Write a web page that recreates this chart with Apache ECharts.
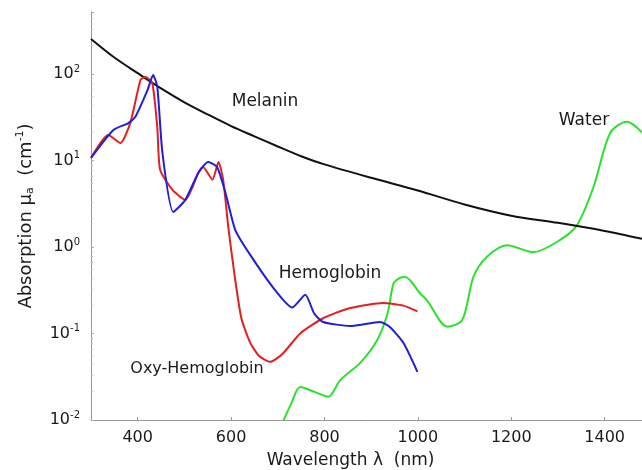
<!DOCTYPE html>
<html>
<head>
<meta charset="utf-8">
<script src="https://cdn.jsdelivr.net/npm/echarts@6/dist/echarts.min.js"></script>
<style>
html,body{margin:0;padding:0;background:#fff;}
#c{width:642px;height:470px;}
</style>
</head>
<body>
<div id="c"></div>
<script>
// Wavelength ticks
var xTicks = [400, 600, 800, 1000, 1200, 1400];

// Melanin
var melaninNm  = [300, 350, 400, 450, 500, 550, 600, 650, 700, 750, 800, 900, 1000, 1100, 1200, 1300, 1400, 1480];
var melaninVal = [254, 155, 102, 68, 47, 34, 25, 19, 14.5, 11.2, 9, 6.3, 4.5, 3.1, 2.3, 1.9, 1.53, 1.24];

// Hemoglobin (deoxy)
var hbNm  = [300, 348, 380, 395, 421, 433, 442, 453, 476, 502, 530, 551, 570, 588, 609, 641, 690, 731, 759, 778, 797, 855, 919, 940, 969, 999];
var hbVal = [10.7, 22.5, 27, 32, 65, 97, 71, 12.2, 2.54, 3.5, 7.2, 9.6, 8.4, 4.2, 1.57, 0.81, 0.34, 0.20, 0.28, 0.17, 0.136, 0.122, 0.136, 0.119, 0.078, 0.036];

// Oxy-Hemoglobin
var hbo2Nm  = [300, 337, 363, 384, 406, 416, 431, 442, 448, 474, 502, 530, 540, 560, 573, 583, 594, 608, 622, 641, 660, 684, 710, 748, 797, 855, 926, 969, 999];
var hbo2Val = [10.7, 19.7, 15.9, 27, 85, 92, 79, 24, 7.8, 4.6, 3.5, 7.2, 8.4, 6.0, 9.6, 6.0, 1.7, 0.45, 0.15, 0.078, 0.055, 0.047, 0.058, 0.10, 0.15, 0.197, 0.225, 0.21, 0.18];

// Water
var waterNm  = [712, 730, 748, 780, 808, 834, 877, 913, 935, 948, 962, 973, 1005, 1020, 1063, 1095, 1119, 1148, 1191, 1247, 1304, 1341, 1376, 1412, 1448, 1480];
var waterVal = [0.0098, 0.016, 0.024, 0.021, 0.0186, 0.029, 0.046, 0.084, 0.17, 0.38, 0.44, 0.45, 0.29, 0.24, 0.12, 0.143, 0.45, 0.77, 1.05, 0.87, 1.2, 1.8, 4.9, 20.8, 28, 21];

function zip(a, b) { return a.map(function (v, i) { return [v, b[i]]; }); }

var FONT = 'DejaVu Sans';
var TXT = '#1a1a1a';
var ANN = '17px "DejaVu Sans"';

var chart = echarts.init(document.getElementById('c'), null, {renderer: 'canvas'});
chart.setOption({
  animation: false,
  backgroundColor: '#ffffff',
  grid: {left: 91, right: 0, top: 12, bottom: 50, containLabel: false, outerBoundsMode: 'none'},
  xAxis: {
    type: 'value',
    min: 300,
    max: 1480,
    splitLine: {show: false},
    axisLine: {show: true, lineStyle: {color: '#9a9a9a', width: 1}},
    axisTick: {show: true, inside: true, length: 3, customValues: xTicks, lineStyle: {color: '#9a9a9a'}},
    axisLabel: {customValues: xTicks, color: TXT, fontFamily: FONT, fontSize: 16, margin: 10,
      formatter: function (v) { return String(v); }},
    name: 'Wavelength \u03bb  (nm)',
    nameLocation: 'middle',
    nameGap: 32,
    nameTextStyle: {color: TXT, fontFamily: FONT, fontSize: 17, padding: [0, 32, 0, 0]}
  },
  yAxis: {
    type: 'log',
    logBase: 10,
    min: 0.01,
    max: 520,
    splitLine: {show: false},
    axisLine: {show: true, lineStyle: {color: '#9a9a9a', width: 1}},
    axisTick: {show: true, inside: true, length: 3, lineStyle: {color: '#aaaaaa'}},
    minorTick: {show: true, splitNumber: 8, length: 2, lineStyle: {color: '#bbbbbb'}},
    axisLabel: {
      margin: 11,
      formatter: function (v) {
        var e = Math.log10(v);
        var r = Math.round(e);
        if (Math.abs(e - r) > 1e-6) return '';
        return '{b|10}{s|' + (r < 0 ? '-' + (-r) : r) + '}';
      },
      rich: {
        b: {color: TXT, fontFamily: FONT, fontSize: 16},
        s: {color: TXT, fontFamily: FONT, fontSize: 10, verticalAlign: 'top', padding: [0, 0, 10, 0]}
      }
    },
    name: 'Absorption \u03bc{sub|a}  (cm{sup|-1})',
    nameLocation: 'middle',
    nameGap: 54,
    nameRotate: 90,
    nameTextStyle: {
      color: TXT, fontFamily: FONT, fontSize: 18,
      rich: {
        sub: {color: TXT, fontFamily: FONT, fontSize: 11, padding: [9, 0, 0, 0]},
        sup: {color: TXT, fontFamily: FONT, fontSize: 11, padding: [0, 0, 11, 0]}
      }
    }
  },
  series: [
    {name: 'Melanin', type: 'line', data: zip(melaninNm, melaninVal), showSymbol: false, smooth: 0.3,
     lineStyle: {color: '#111111', width: 2}, z: 3},
    {name: 'Water', type: 'line', data: zip(waterNm, waterVal), showSymbol: false, smooth: 0.3,
     lineStyle: {color: '#2ee02e', width: 2}, z: 2},
    {name: 'Oxy-Hemoglobin', type: 'line', data: zip(hbo2Nm, hbo2Val), showSymbol: false, smooth: 0.2,
     lineStyle: {color: '#e41f1f', width: 2}, z: 4},
    {name: 'Hemoglobin', type: 'line', data: zip(hbNm, hbVal), showSymbol: false, smooth: 0.2,
     lineStyle: {color: '#1f1fd6', width: 2}, z: 5}
  ],
  graphic: [
    {type: 'text', x: 265, y: 102, style: {text: 'Melanin', fill: TXT, font: ANN, align: 'center', verticalAlign: 'middle'}},
    {type: 'text', x: 584, y: 121, style: {text: 'Water', fill: TXT, font: ANN, align: 'center', verticalAlign: 'middle'}},
    {type: 'text', x: 330, y: 274, style: {text: 'Hemoglobin', fill: TXT, font: ANN, align: 'center', verticalAlign: 'middle'}},
    {type: 'text', x: 197, y: 369, style: {text: 'Oxy-Hemoglobin', fill: TXT, font: '16px "DejaVu Sans"', align: 'center', verticalAlign: 'middle'}}
  ]
});
</script>
</body>
</html>
